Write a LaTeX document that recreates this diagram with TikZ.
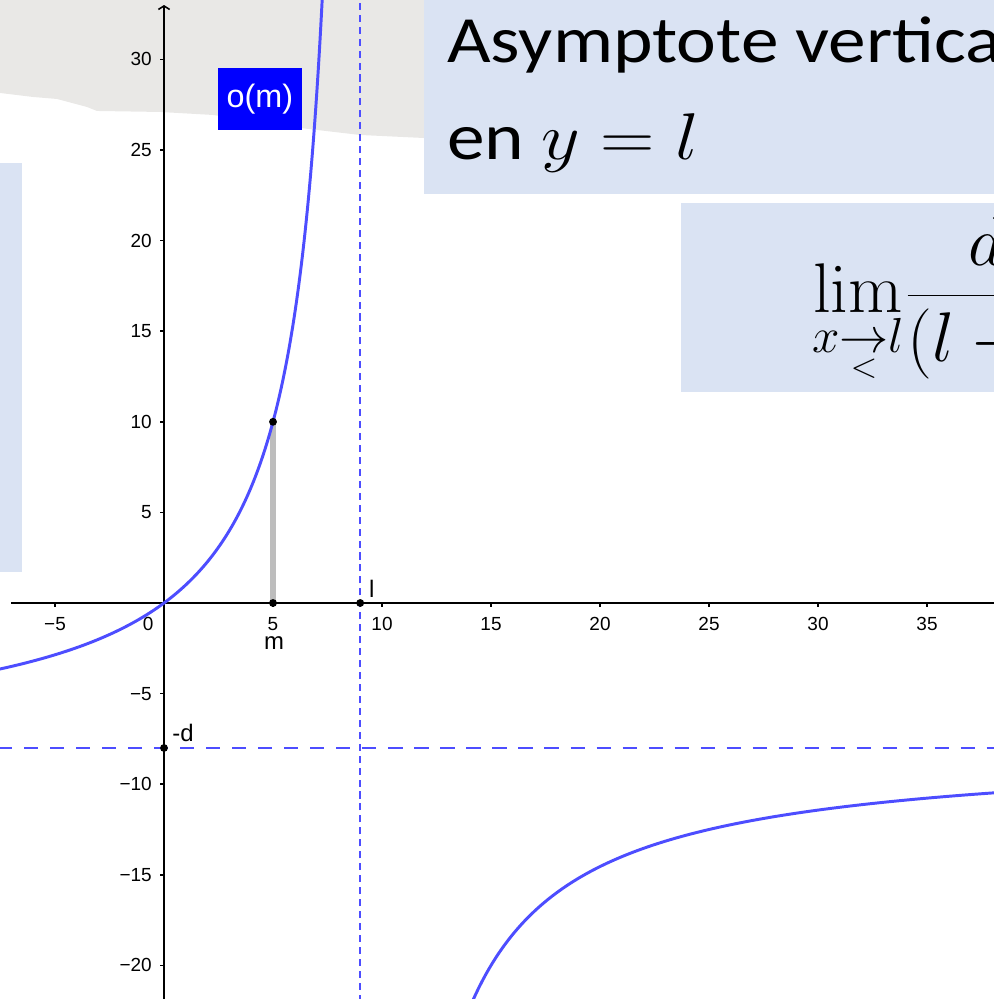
\RequirePackage{fix-cm}
\documentclass[tikz,border=0pt]{standalone}
\usepackage{amsmath}
\usepackage[no-math]{fontspec}
\setmainfont{Liberation Sans}
\newfontfamily\carlito{Carlito}
\usetikzlibrary{arrows.meta}
\definecolor{gblue}{HTML}{4D4DFF}
\definecolor{gpanel}{HTML}{DAE3F3}
\definecolor{gpaper}{HTML}{E9E8E6}
\definecolor{gseg}{HTML}{BDBDBD}
\definecolor{glabel}{HTML}{0000FF}
\tikzset{
  axis/.style={draw=black, line width=1.1pt},
  curve/.style={draw=gblue, line width=2.1pt},
  asymv/.style={draw=gblue, line width=1.4pt, dash pattern=on 5pt off 3.5pt},
  asymh/.style={draw=gblue, line width=1.7pt, dash pattern=on 10pt off 8.5pt},
  seg/.style={draw=gseg, line width=4.3pt},
  dot/.style={circle, fill=black, inner sep=0pt, minimum size=5.6pt},
  ticklbl/.style={font=\fontsize{13.5}{16}\selectfont, inner sep=0pt},
  ptlbl/.style={font=\fontsize{17}{20}\selectfont, inner sep=0pt},
  omlbl/.style={fill=glabel, text=white, font=\fontsize{23}{26}\selectfont, minimum width=2.1cm, minimum height=1.55cm, inner sep=0pt},
  panel/.style={fill=gpanel},
  paper/.style={fill=gpaper},
  heading/.style={font=\carlito\fontsize{47}{60}\selectfont, inner sep=0pt, anchor=base west},
  formula/.style={font=\fontsize{50}{60}\selectfont, inner sep=0pt, anchor=base west},
  px/.style={shift={(-7.523,33.278)}, x=0.025cm, y=-0.025cm},
}

\begin{document}
\begin{tikzpicture}[x=0.545cm, y=0.453cm]
  \useasboundingbox (-7.523,-21.854) rectangle (38.073,33.278);
  \clip (-7.523,-21.854) rectangle (38.073,33.278);

  % grey sheet behind the graph
  \begin{scope}[px]
    \fill[paper] (0,0) -- (440,0) -- (440,139) -- (423,138) -- (360,135) -- (300,128)
      -- (233,118) -- (213,115) -- (160,112) -- (97,111) -- (87,107) -- (57,99) -- (33,97) -- (0,93) -- cycle;
  \end{scope}

  % axes
  \draw[axis] (-7,0) -- (38.2,0);
  \draw[axis, -{Straight Barb[length=2.5pt, width=8pt]}] (0,-22) -- (0,33.0);
  \foreach \x in {5,10,...,35} {
    \draw[axis] (\x,0) -- ++(0,-3pt);
    \node[ticklbl, anchor=base] at (\x,-1.49) {\x};
  }
  \draw[axis] (-5,0) -- ++(0,-3pt);
  \node[ticklbl, anchor=base] at (-5,-1.49) {−5};
  \node[ticklbl, anchor=base] at (-0.73,-1.49) {0};
  \foreach \y in {5,10,...,30} {
    \draw[axis] (0,\y) -- ++(-3pt,0);
    \node[ticklbl, anchor=base east] at (-0.55,\y-0.36) {\y};
  }
  \foreach \y in {5,10,15,20} {
    \draw[axis] (0,-\y) -- ++(-3pt,0);
    \node[ticklbl, anchor=base east] at (-0.55,-\y-0.36) {−\y};
  }

  % asymptotes
  \draw[asymv] (9,-22) -- (9,33.3);
  \draw[asymh] (-7.6,-8) -- (38.2,-8);

  % o(m) segment
  \coordinate (m) at (5,0);
  \coordinate (om) at (5,10);
  \draw[seg] (m) -- (om);

  % the function d x/(l-x), d=8, l=9
  \draw[curve] plot[domain=-7.6:7.27, samples=300] (\x, {8*\x/(9-\x)});
  \draw[curve] plot[domain=14.1:38.2, samples=150] (\x, {8*\x/(9-\x)});

  % points and labels
  \node[dot] (mdot) at (m) {};
  \node[dot] (omdot) at (om) {};
  \node[dot] (ldot) at (9,0) {};
  \node[dot] (ddot) at (0,-8) {};
  \node[ptlbl, anchor=base] (mlbl) at (5.05,-2.54) {m};
  \node[ptlbl, anchor=base west] (llbl) at (9.4,0.33) {l};
  \node[ptlbl, anchor=base west] (dlbl) at (0.37,-7.62) {-d};

  % slide panels on top
  \begin{scope}[px]
    \node[omlbl] (omlabel) at (260,99) {o(m)};
    \fill[panel] (0,163) rectangle (22,572);
    \fill[panel] (424,0) rectangle (994,194);
    \fill[panel] (681,203) rectangle (994,392);
    \node[heading] (head1) at (447,63) {\scalebox{1.14}[1]{Asymptote verticale}};
    \node[heading] (head2) at (447,160) {\scalebox{1.14}[1]{en $y = l$}};
    \node[formula] (limit) at (812,313) {$\displaystyle\lim_{x\underset{<}{\to}l}\mkern-2.5mu\frac{dx\rule[-15pt]{0pt}{15pt}}{(l-x)}$};
  \end{scope}
\end{tikzpicture}
\end{document}
